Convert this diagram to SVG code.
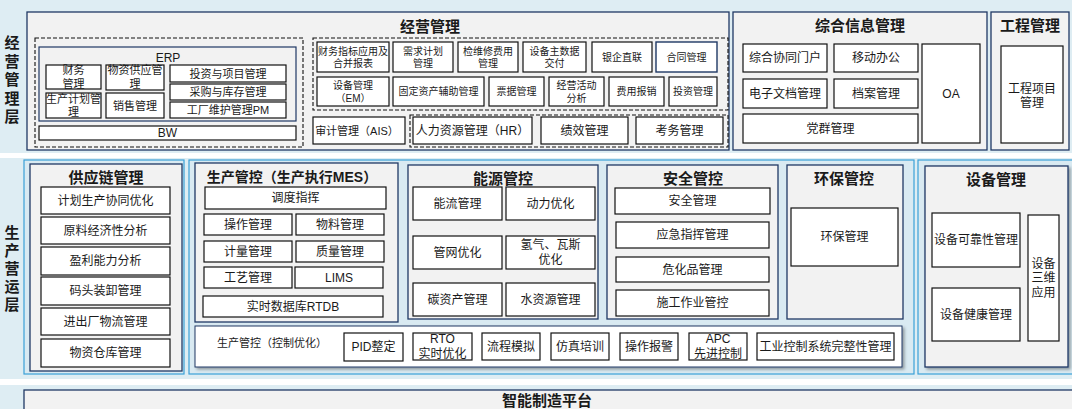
<svg xmlns="http://www.w3.org/2000/svg" width="1072" height="409" viewBox="0 0 1072 409" lang="zh-CN">
<defs>
<style>
text{font-family:"Liberation Sans","Noto Sans CJK SC",sans-serif;text-anchor:middle;dominant-baseline:central;fill:#1a1a1a;font-size:12px}
.t{font-weight:bold;font-size:15px}
.t14{font-weight:bold;font-size:14px}
.s10{font-size:10px}
.s11{font-size:11px}
.b{fill:#fff;stroke:#111;stroke-width:1.2}
.bb{fill:#fff;stroke:#1f3864;stroke-width:1.4}
.nb{fill:#f2f2f2;stroke:#1f3864;stroke-width:1.3}
.ob{fill:#d9eaf2;stroke:#3aa0d8;stroke-width:1.2}
.d{fill:none;stroke:#111;stroke-width:1.1;stroke-dasharray:4 2}
.sh{filter:url(#shadow)}
</style>
<filter id="shadow" x="-5%" y="-10%" width="110%" height="130%">
<feDropShadow dx="2" dy="2" stdDeviation="1.5" flood-color="#000" flood-opacity="0.35"/>
</filter>
</defs>
<rect x="0" y="0" width="1072" height="409" fill="#ffffff"/>
<rect x="0" y="0" width="1072" height="153" fill="#deedf3"/>
<rect x="0" y="158" width="1072" height="221" fill="#deedf3"/>
<rect x="0" y="385" width="1072" height="24" fill="#deedf3"/>

<g id="layer-labels">
<text class="t"><tspan x="12" y="42">经</tspan><tspan x="12" y="61">营</tspan><tspan x="12" y="79">管</tspan><tspan x="12" y="98">理</tspan><tspan x="12" y="116">层</tspan></text>
<text class="t"><tspan x="12" y="232">生</tspan><tspan x="12" y="250">产</tspan><tspan x="12" y="268">营</tspan><tspan x="12" y="286">运</tspan><tspan x="12" y="304">层</tspan></text>
</g>

<g id="connectors"></g>

<!-- 经营管理 -->
<g id="jygl">
<rect class="nb" x="27" y="12" width="702" height="138"/>
<text class="t" x="430" y="26">经营管理</text>
<rect class="d" x="35" y="38" width="268" height="109"/>
<rect class="d" x="313" y="38" width="415" height="72"/>
<rect class="d" x="410" y="115" width="318" height="32"/>
</g>
<g id="erp">
<rect fill="none" stroke="#1f3864" stroke-width="1.2" x="39" y="47" width="257" height="74"/>
<text x="168" y="58">ERP</text>
</g>
<g id="cwgl"><rect class="b" x="46" y="65" width="55" height="24"/><text class="s11"><tspan x="73.5" y="70.25">财务</tspan><tspan x="73.5" y="83.75">管理</tspan></text></g>
<g id="wzgy"><rect class="b" x="106" y="65" width="58" height="25"/><text class="s11"><tspan x="135" y="70">物资供应管</tspan><tspan x="135" y="83.5">理</tspan></text></g>
<g id="scjh"><rect class="b" x="46" y="93" width="55" height="25"/><text class="s11"><tspan x="73.5" y="98.75">生产计划管</tspan><tspan x="73.5" y="112.25">理</tspan></text></g>
<g id="xsgl"><rect class="b" x="106" y="93" width="58" height="25"/><text class="s11" x="135" y="105.5">销售管理</text></g>
<g id="tzxm"><rect class="b" x="170" y="65" width="116" height="17"/><text class="s11" x="228" y="73.5">投资与项目管理</text></g>
<g id="cgkc"><rect class="b" x="170" y="84" width="116" height="16"/><text class="s11" x="228" y="92">采购与库存管理</text></g>
<g id="gcwh"><rect class="b" x="170" y="102" width="116" height="16"/><text class="s11" x="228" y="110">工厂维护管理PM</text></g>
<g id="bw"><rect class="b" x="39" y="126" width="257" height="14"/><text x="167.5" y="133">BW</text></g>

<g id="cwzb"><rect class="b" x="317" y="42" width="72" height="30"/><text class="s10"><tspan x="353" y="50.75">财务指标应用及</tspan><tspan x="353" y="63.25">合并报表</tspan></text></g>
<g id="xqjh"><rect class="b" x="393" y="42" width="60" height="30"/><text class="s10"><tspan x="423" y="50.75">需求计划</tspan><tspan x="423" y="63.25">管理</tspan></text></g>
<g id="jwxfy"><rect class="b" x="458" y="42" width="60" height="30"/><text class="s10"><tspan x="488" y="50.75">检维修费用</tspan><tspan x="488" y="63.25">管理</tspan></text></g>
<g id="sbzsj"><rect class="b" x="523" y="42" width="63" height="30"/><text class="s10"><tspan x="554.5" y="50.75">设备主数据</tspan><tspan x="554.5" y="63.25">交付</tspan></text></g>
<g id="yqzl"><rect class="b" x="592" y="42" width="60" height="30"/><text class="s10" x="622" y="57">银企直联</text></g>
<g id="htgl"><rect class="bb" x="656" y="42" width="61" height="30"/><text class="s10" x="686.5" y="57">合同管理</text></g>
<g id="sbglem"><rect class="b" x="317" y="77" width="72" height="29"/><text class="s10"><tspan x="353" y="85.25">设备管理</tspan><tspan x="353" y="97.75">（EM）</tspan></text></g>
<g id="gdzc"><rect class="b" x="393" y="77" width="91" height="29"/><text class="s10" x="438.5" y="91.5">固定资产辅助管理</text></g>
<g id="pjgl"><rect class="b" x="489" y="77" width="55" height="29"/><text class="s10" x="516.5" y="91.5">票据管理</text></g>
<g id="jyhd"><rect class="b" x="549" y="77" width="55" height="29"/><text class="s10"><tspan x="576.5" y="85.25">经营活动</tspan><tspan x="576.5" y="97.75">分析</tspan></text></g>
<g id="fybx"><rect class="b" x="609" y="77" width="55" height="29"/><text class="s10" x="636.5" y="91.5">费用报销</text></g>
<g id="tzgl"><rect class="b" x="669" y="77" width="48" height="29"/><text class="s10" x="693" y="91.5">投资管理</text></g>
<g id="sjgl"><rect class="b" x="313" y="117" width="92" height="27"/><text class="s11" x="357" y="130.5">审计管理（AIS）</text></g>
<g id="rlzy"><rect class="b" x="413" y="117" width="119" height="27"/><text x="472.5" y="130.5">人力资源管理（HR）</text></g>
<g id="jxgl"><rect class="b" x="541" y="117" width="87" height="27"/><text x="584.5" y="130.5">绩效管理</text></g>
<g id="kwgl"><rect class="b" x="636" y="117" width="87" height="27"/><text x="679.5" y="130.5">考务管理</text></g>

<!-- 综合信息管理 -->
<g id="zhxx"><rect class="nb" x="733" y="12" width="254" height="138"/><text class="t" x="860" y="25">综合信息管理</text></g>
<g id="zhxt"><rect class="b" x="743" y="44" width="84" height="28"/><text x="785" y="58">综合协同门户</text></g>
<g id="ydbg"><rect class="b" x="834" y="44" width="84" height="28"/><text x="876" y="58">移动办公</text></g>
<g id="dzwd"><rect class="b" x="743" y="79" width="84" height="29"/><text x="785" y="93.5">电子文档管理</text></g>
<g id="dagl"><rect class="b" x="834" y="79" width="84" height="29"/><text x="876" y="93.5">档案管理</text></g>
<g id="dqgl"><rect class="b" x="743" y="114" width="175" height="29"/><text x="830.5" y="128.5">党群管理</text></g>
<g id="oa"><rect class="b" x="922" y="44" width="58" height="99"/><text x="951" y="94">OA</text></g>
<g id="gcgl"><rect class="nb" x="991" y="12" width="78" height="138"/><text class="t" x="1030" y="25">工程管理</text></g>
<g id="gcxm"><rect class="b" x="1001" y="46" width="62" height="97"/><text><tspan x="1032" y="88.75">工程项目</tspan><tspan x="1032" y="103.25">管理</tspan></text></g>

<!-- 生产营运层 -->
<g id="gyl">
<rect class="ob" x="24" y="160" width="160" height="214"/>
<rect class="nb" x="30" y="164" width="152" height="207"/>
<text class="t" x="106" y="177">供应链管理</text>
</g>
<g id="jhsc"><rect class="b" x="41" y="187" width="129" height="27"/><text x="105.5" y="200.5">计划生产协同优化</text></g>
<g id="yljj"><rect class="b" x="41" y="217" width="129" height="27"/><text x="105.5" y="230.5">原料经济性分析</text></g>
<g id="ylnl"><rect class="b" x="41" y="247" width="129" height="28"/><text x="105.5" y="261">盈利能力分析</text></g>
<g id="mtzx"><rect class="b" x="41" y="277" width="129" height="28"/><text x="105.5" y="291">码头装卸管理</text></g>
<g id="jccwl"><rect class="b" x="41" y="308" width="129" height="27"/><text x="105.5" y="321.5">进出厂物流管理</text></g>
<g id="wzck"><rect class="b" x="41" y="339" width="129" height="28"/><text x="105.5" y="353">物资仓库管理</text></g>

<g id="scgk-outer"><rect class="ob" x="189" y="160" width="725" height="214"/></g>
<g id="mes">
<rect class="nb" x="195" y="163" width="203" height="159"/>
<text class="t14" x="292" y="177">生产管控（生产执行MES）</text>
</g>
<g id="ddzh"><rect class="b" x="205" y="187" width="181" height="22"/><text x="295.5" y="198">调度指挥</text></g>
<g id="czgl"><rect class="b" x="204" y="214" width="88" height="21"/><text x="248" y="224.5">操作管理</text></g>
<g id="wlgl"><rect class="b" x="296" y="214" width="88" height="21"/><text x="340" y="224.5">物料管理</text></g>
<g id="jlgl"><rect class="b" x="204" y="241" width="88" height="21"/><text x="248" y="251.5">计量管理</text></g>
<g id="zlgl"><rect class="b" x="296" y="241" width="88" height="21"/><text x="340" y="251.5">质量管理</text></g>
<g id="gygl"><rect class="b" x="204" y="267" width="88" height="21"/><text x="248" y="277.5">工艺管理</text></g>
<g id="lims"><rect class="b" x="295" y="267" width="88" height="21"/><text x="339" y="277.5">LIMS</text></g>
<g id="rtdb"><rect class="b" x="203" y="296" width="180" height="21"/><text x="293" y="306.5">实时数据库RTDB</text></g>

<g id="nygk">
<rect class="nb" x="408" y="165" width="190" height="154"/>
<text class="t" x="503" y="178">能源管控</text>
</g>
<g id="nlgl"><rect class="b" x="413" y="187" width="89" height="33"/><text x="457.5" y="203.5">能流管理</text></g>
<g id="dlyh"><rect class="b" x="506" y="187" width="89" height="33"/><text x="550.5" y="203.5">动力优化</text></g>
<g id="gwyh"><rect class="b" x="413" y="236" width="89" height="33"/><text x="457.5" y="252.5">管网优化</text></g>
<g id="qqws"><rect class="b" x="506" y="236" width="89" height="33"/><text><tspan x="550.5" y="245.25">氢气、瓦斯</tspan><tspan x="550.5" y="259.75">优化</tspan></text></g>
<g id="tzcgl"><rect class="b" x="413" y="283" width="89" height="33"/><text x="457.5" y="299.5">碳资产管理</text></g>
<g id="szygl"><rect class="b" x="506" y="283" width="89" height="33"/><text x="550.5" y="299.5">水资源管理</text></g>

<g id="aqgk">
<rect class="nb" x="607" y="165" width="171" height="154"/>
<text class="t" x="693" y="178">安全管控</text>
</g>
<g id="aqgl"><rect class="b" x="615" y="188" width="155" height="26"/><text x="692.5" y="201">安全管理</text></g>
<g id="yjzh"><rect class="b" x="616" y="222" width="153" height="26"/><text x="692.5" y="235">应急指挥管理</text></g>
<g id="whp"><rect class="b" x="616" y="257" width="153" height="25"/><text x="692.5" y="269.5">危化品管理</text></g>
<g id="sgzy"><rect class="b" x="616" y="290" width="153" height="26"/><text x="692.5" y="303">施工作业管控</text></g>

<g id="hbgk">
<rect class="nb" x="787" y="165" width="116" height="154"/>
<text class="t" x="844" y="178">环保管控</text>
</g>
<g id="hbgl"><rect class="b" x="791" y="208" width="107" height="58"/><text x="844.5" y="237">环保管理</text></g>

<g id="kzyh">
<rect class="sh" fill="#fff" stroke="#1f3864" stroke-width="1" x="195" y="326" width="707" height="41"/>
<text class="s11" x="272" y="343">生产管控（控制优化）</text>
</g>
<g id="pid"><rect class="b" x="344" y="333" width="59" height="28"/><text x="373.5" y="347">PID整定</text></g>
<g id="rto"><rect class="b" x="413" y="333" width="59" height="27"/><text><tspan x="442.5" y="339.25">RTO</tspan><tspan x="442.5" y="353.75">实时优化</tspan></text></g>
<g id="lcmn"><rect class="b" x="482" y="333" width="58" height="27"/><text x="511" y="346.5">流程模拟</text></g>
<g id="fzpx"><rect class="b" x="551" y="333" width="58" height="27"/><text x="580" y="346.5">仿真培训</text></g>
<g id="czbj"><rect class="b" x="620" y="333" width="58" height="27"/><text x="649" y="346.5">操作报警</text></g>
<g id="apc"><rect class="b" x="689" y="333" width="58" height="27"/><text><tspan x="718" y="339.25">APC</tspan><tspan x="718" y="353.75">先进控制</tspan></text></g>
<g id="gykz"><rect class="b" x="757" y="333" width="137" height="27"/><text x="825.5" y="346.5">工业控制系统完整性管理</text></g>

<g id="sbgl">
<rect class="ob" x="918" y="160" width="156" height="214"/>
<rect class="nb sh" x="925" y="166" width="143" height="201"/>
<text class="t" x="996" y="179">设备管理</text>
</g>
<g id="sbkkx"><rect class="b" x="932" y="213" width="88" height="54"/><text x="976" y="240">设备可靠性管理</text></g>
<g id="sbjk"><rect class="b" x="932" y="288" width="88" height="53"/><text x="976" y="314.5">设备健康管理</text></g>
<g id="sbsw"><rect class="b" x="1028" y="215" width="31" height="126"/><text><tspan x="1043.5" y="263.5">设备</tspan><tspan x="1043.5" y="278">三维</tspan><tspan x="1043.5" y="292.5">应用</tspan></text></g>

<g id="znzz">
<rect class="nb" x="24" y="390" width="1060" height="30"/>
<text class="t" x="547" y="400">智能制造平台</text>
</g>
</svg>
